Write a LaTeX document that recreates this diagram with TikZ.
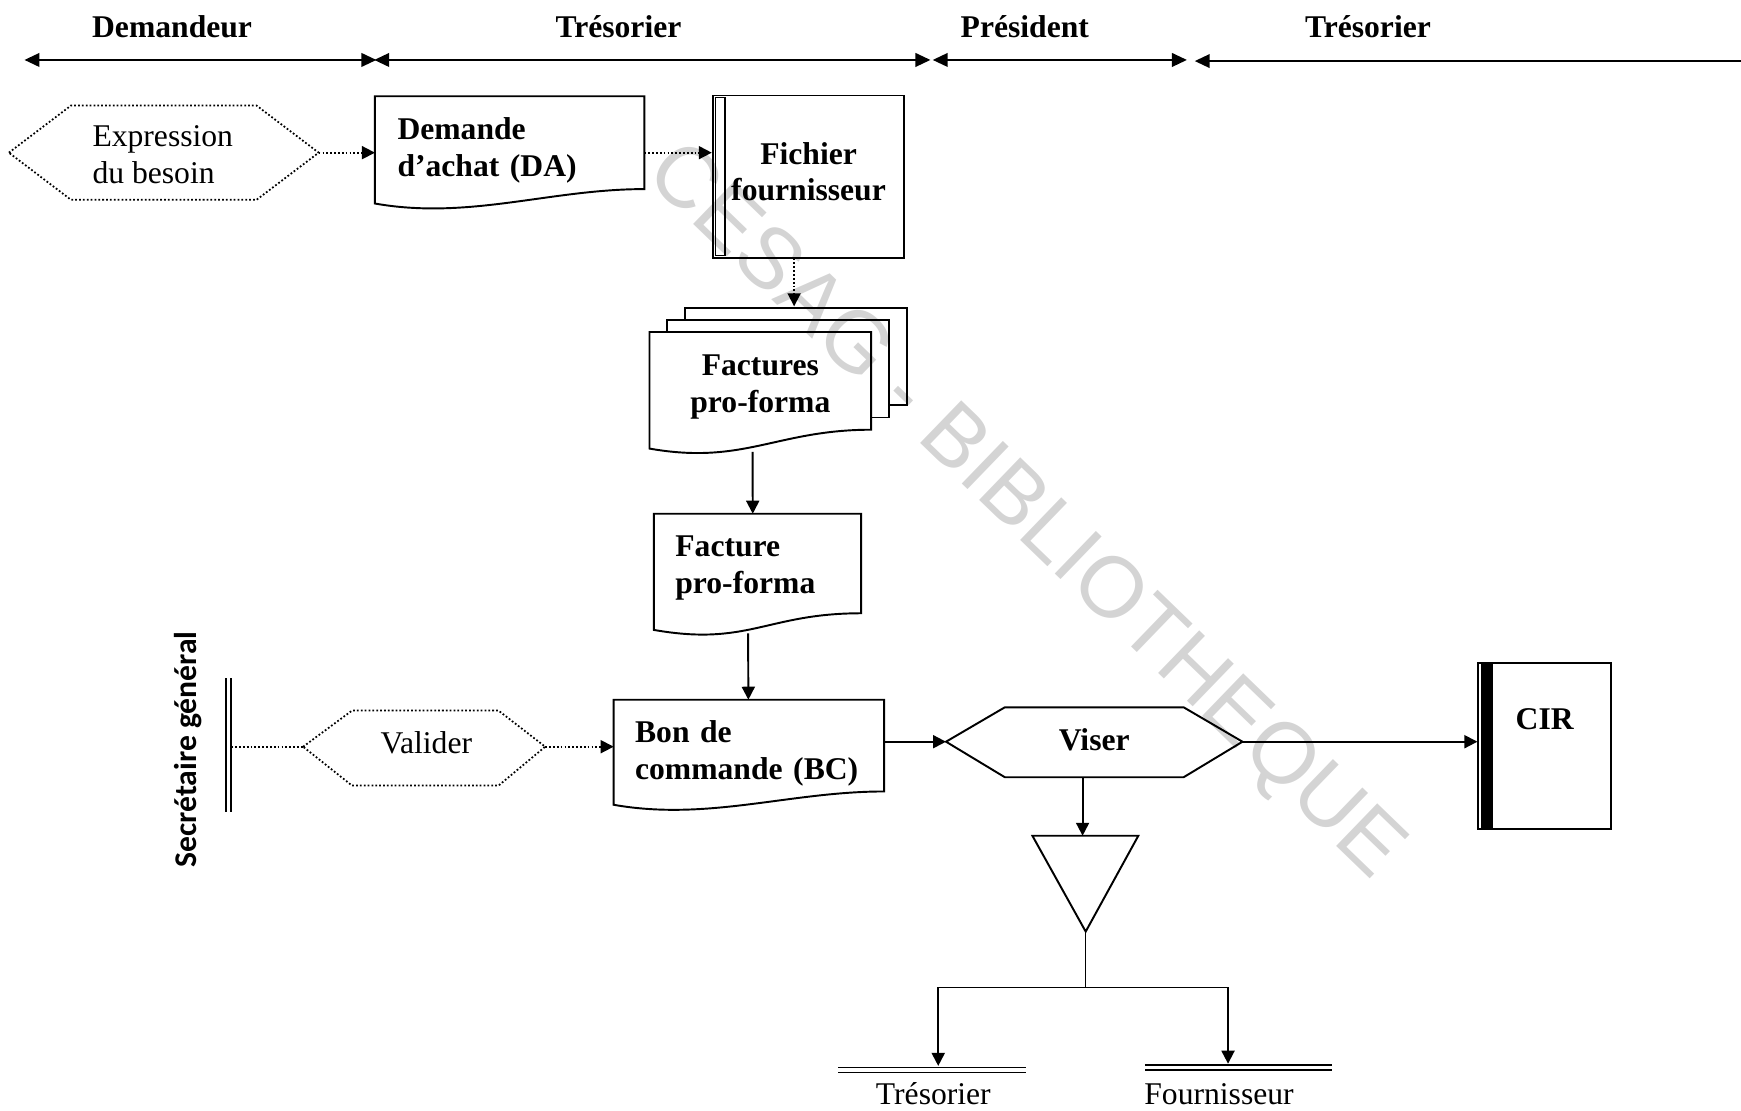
\documentclass[tikz,border=0pt]{standalone}
\usepackage{fontspec}
\setmainfont{Liberation Serif}
\newfontfamily\sgfont{Carlito}
\newfontfamily\wmfont{Liberation Sans}
\usetikzlibrary{arrows.meta,calc}

\newcommand{\txtsize}{\fontsize{18}{21}\selectfont}
\newcommand{\docshape}[2]{%
  \draw[proc] ($(#1.south west)+(0,#2)$) -- (#1.north west) -- (#1.north east)
    -- (#1.south east) .. controls +(-85,0) and +(85,15) .. ($(#1.south west)+(0,#2)$) -- cycle;}

\begin{document}
\begin{tikzpicture}[x=0.2221mm, y=-0.2221mm,
   every node/.style={font=\txtsize, inner sep=0pt},
   hdr/.style={font=\txtsize\bfseries},
   doc/.style={rectangle, font=\txtsize\bfseries, align=left},
   proc/.style={line width=1.1pt, line join=miter},
   dots/.style={line width=1pt, dash pattern=on 1pt off 1.2pt},
   tip/.style={-{Triangle[length=2.6mm, width=2.6mm]}},
   flow/.style={proc, tip},
   dotflow/.style={dots, tip},
   lane/.style={line width=1.3pt, {Triangle[length=3mm, width=2.7mm]}-{Triangle[length=3mm, width=2.7mm]}},
   dbl/.style={double, double distance=2pt, line width=0.8pt}]

\useasboundingbox (0,0) rectangle (1568,1000);

\node[font=\wmfont\fontsize{49}{49}\selectfont, text=black!17, rotate=-44] (wmark) at (922,462) {CESAG - BIBLIOTHEQUE};

% acteurs
\node[hdr] (dem) at (155,24) {Demandeur};
\node[hdr] (tre1) at (557,24) {Trésorier};
\node[hdr] (pre) at (923,24) {Président};
\node[hdr] (tre2) at (1232,24) {Trésorier};
\coordinate (l0) at (22,54);   \coordinate (l1) at (339,54);
\coordinate (l2) at (337,54);  \coordinate (l3) at (838,54);
\coordinate (l4) at (840,54);  \coordinate (l5) at (1069,54);
\coordinate (l6) at (1076,55); \coordinate (l7) at (1582,55);
\draw[lane] (l0) -- (l1);
\draw[lane] (l2) -- (l3);
\draw[lane] (l4) -- (l5);
\draw[lane] (l6) -- (l7);

% expression du besoin
\draw[dots] (8,137.5) coordinate (exL) -- (64,95) -- (231,95) -- (287,137.5) coordinate (exR)
   -- (231,180) -- (64,180) -- cycle;
\node[anchor=west, align=left] (expr) at (83,139) {Expression\\du besoin};

\node[doc, minimum width=53.75mm, minimum height=18.43mm, text width=44.86mm, inner xsep=4.44mm] (da) at (459,128.5) {\rule{0pt}{21.7pt}Demande\\d’achat (DA)};
\docshape{da}{13}
\draw[dotflow] (exR) -- (exR -| da.west);

\node[draw, proc, minimum width=38.33mm, minimum height=32.43mm, font=\txtsize\bfseries, align=center] (fich) at (728.2,159) {Fichier\\fournisseur\rule[-5.7pt]{0pt}{5.7pt}};
\draw[line width=0.8pt] ($(fich.north west)+(3.6,2.5)$) rectangle ($(fich.south west)+(12,-2.5)$);
\draw[dotflow] (da.east |- exR) -- (fich.west |- exR);

% factures
\node[doc, align=center, minimum width=44.2mm, minimum height=19.41mm] (facs) at (684.8,343) {\rule{0pt}{19.1pt}Factures\\pro-forma};
\docshape{facs}{17}
\draw[proc] ($(facs.south east)+(0,-11)$) -- ++(16,0) -- ($(facs.north east)+(16,-11)$)
   -- ($(facs.north west)+(16,-11)$) -- ++(0,11);
\draw[proc] ($(facs.south east)+(16,-22)$) -- ++(16,0) -- ($(facs.north east)+(32,-22)$)
   -- ($(facs.north west)+(32,-22)$) -- ++(0,11);
\draw[dotflow] ($(fich.south)+(-13,0)$) -- ++(0,43);

\node[doc, minimum width=41.3mm, minimum height=19.77mm, text width=32.87mm, inner xsep=4.22mm] (fac) at (682.25,507.5) {\rule{0pt}{16.6pt}Facture\\pro-forma};
\docshape{fac}{15}
\draw[flow] ($(facs.south)+(-7,20)$) -- ($(fac.north)+(-4.3,0)$);

\node[doc, minimum width=53.97mm, minimum height=18.21mm, text width=45.53mm, inner xsep=4.22mm] (bc) at (674.5,671.5) {\rule{0pt}{21.7pt}Bon de\\commande (BC)};
\docshape{bc}{12}
\draw[flow] ($(fac.south)+(-8.5,18)$) -- ($(bc.north)+(-0.5,0)$);

% validation
\node[rotate=90, font=\sgfont\bfseries\fontsize{18}{21}\selectfont] (sg) at (169.5,675) {Secrétaire général};
\draw[dbl] (205.8,611) coordinate (sgT) -- (205.8,731) coordinate (sgB);
\draw[dots] (273,672.5) coordinate (vaL) -- (317,640) -- (449,640) -- (491,672.5) coordinate (vaR)
   -- (449,707.5) -- (317,707.5) -- cycle;
\node (val) at (384,669) {Valider};
\draw[dots] ($(sgT |- vaL)+(2.5,0)$) -- (vaL);
\draw[dotflow] (vaR) -- (vaR -| bc.west);

% visa
\draw[proc] (852,668) coordinate (viL) -- (905,637) -- (1066,637) -- (1119,668) coordinate (viR)
   -- (1066,700) -- (905,700) -- cycle;
\node[hdr] (vis) at (985.5,666) {Viser};
\draw[flow] (bc.east |- viL) -- (viL);

\node[draw, proc, anchor=north, minimum width=26.54mm, text height=13.2mm, text depth=19.99mm, font=\txtsize\bfseries] (cir) at (1391.2,596.5) {CIR};
\fill ($(cir.north west)+(3,1.5)$) rectangle ($(cir.south west)+(14,-1.5)$);
\draw[flow] (viR) -- (viR -| cir.west);

% classement
\coordinate (viB) at (975,700);
\coordinate (triT) at (975,752.7);
\draw[proc] (929.8,752.7) -- (1025.2,752.7) -- (977.8,839) coordinate (triA) -- cycle;
\draw[flow] (viB) -- (triT);
\draw[line width=0.6pt] (triA) -- ++(0,50) coordinate (br);
\coordinate (brL) at (845,889);
\coordinate (brR) at (1106,889);
\draw[line width=0.6pt] (brL) -- (brR);

\node[anchor=base] (tres) at (840.6,995) {Trésorier};
\node[anchor=base] (four) at (1097.9,995) {Fournisseur};
\draw[dbl] (755,963.5) -- (924,963.5);
\draw[dbl] (1031,961.5) -- (1200,961.5);
\coordinate (tresT) at (845,960);
\coordinate (fourT) at (1106,958);
\draw[flow] (brL) -- (tresT);
\draw[flow] (brR) -- (fourT);

\end{tikzpicture}
\end{document}
